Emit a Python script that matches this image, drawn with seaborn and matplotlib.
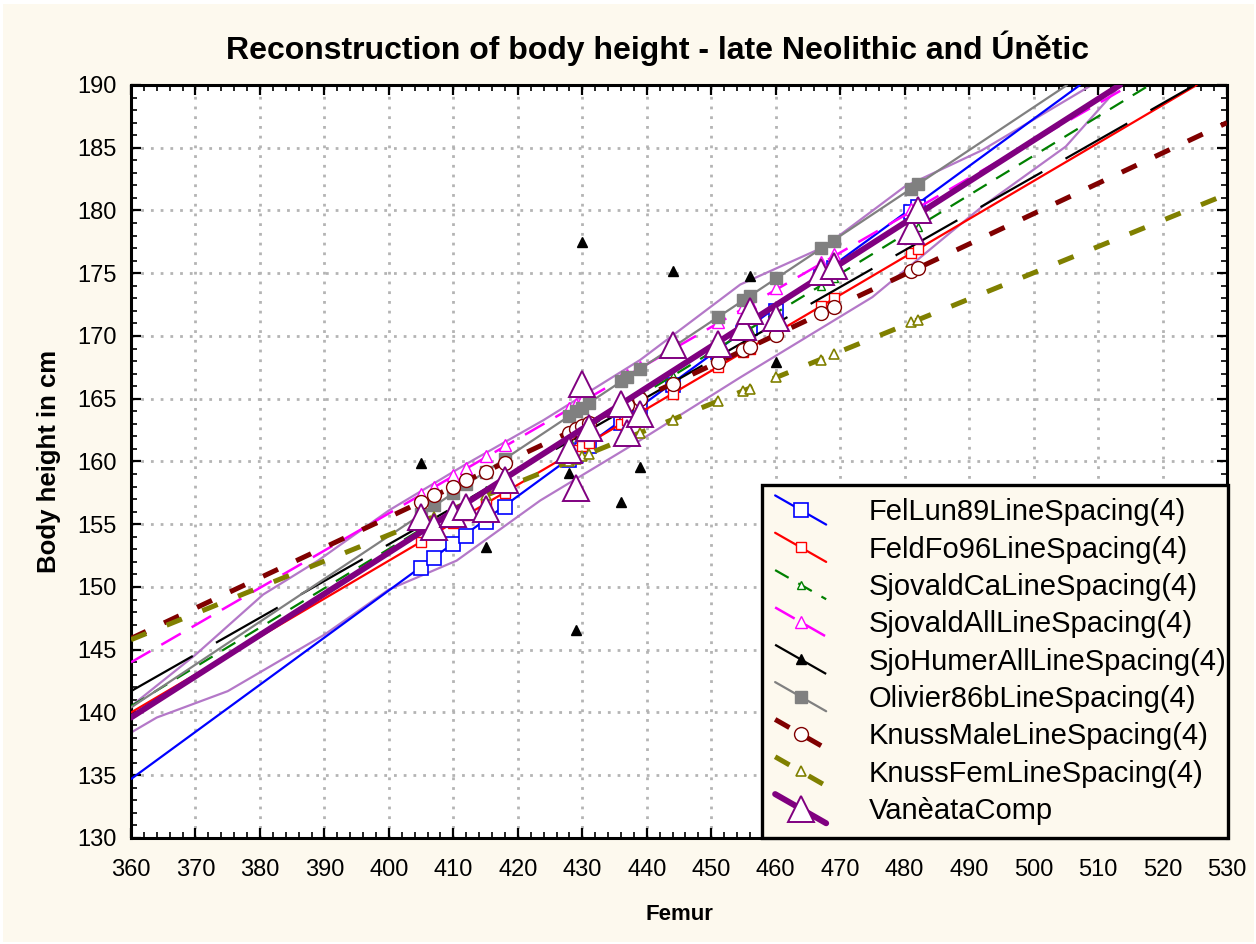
import numpy as np
import pandas as pd
import matplotlib
matplotlib.use("Agg")
import matplotlib.pyplot as plt
import seaborn as sns
from matplotlib.lines import Line2D
from matplotlib.legend_handler import HandlerLine2D
from matplotlib.ticker import MultipleLocator
from matplotlib.patches import Rectangle

# ---------------- data ----------------
femur = [405, 407, 410, 412, 415, 418, 428, 429, 430, 431, 436, 437, 439, 444,
         451, 455, 456, 460, 467, 469, 481, 482]

fellun89_y = [151.5, 152.3, 153.4, 154.1, 155.2, 156.4, 160.1, 160.5, 160.9, 161.2, 163.1,
              163.5, 164.2, 166.1, 168.7, 170.2, 170.6, 172.0, 174.7, 175.4, 179.9, 180.3]
feldfo96_y = [153.6, 154.2, 155.1, 155.7, 156.6, 157.5, 160.6, 160.9, 161.2, 161.5, 163.0,
              163.3, 163.9, 165.4, 167.5, 168.7, 169.0, 170.3, 172.4, 173.0, 176.6, 176.9]
sjovaldca_y = [154.6, 155.2, 156.2, 156.8, 157.7, 158.7, 161.8, 162.1, 162.4, 162.7, 164.3,
               164.6, 165.2, 166.8, 169.0, 170.2, 170.5, 171.8, 174.0, 174.6, 178.4, 178.7]
sjovaldall_y = [157.4, 158.0, 158.9, 159.5, 160.4, 161.3, 164.3, 164.6, 164.9, 165.2, 166.6,
                166.9, 167.5, 169.0, 171.1, 172.3, 172.6, 173.8, 175.9, 176.5, 180.1, 180.4]
olivier86b_y = [155.8, 156.5, 157.5, 158.2, 159.2, 160.2, 163.6, 164.0, 164.3, 164.7, 166.4,
                166.7, 167.4, 169.1, 171.5, 172.9, 173.2, 174.6, 177.0, 177.6, 181.7, 182.1]
knussmale_y = [156.8, 157.3, 158.0, 158.5, 159.2, 159.9, 162.3, 162.6, 162.8, 163.1, 164.3,
               164.5, 165.0, 166.2, 167.9, 168.9, 169.1, 170.1, 171.8, 172.3, 175.2, 175.4]
knussfem_y = [155.2, 155.6, 156.2, 156.7, 157.3, 157.9, 160.0, 160.2, 160.4, 160.6, 161.7,
              161.9, 162.3, 163.3, 164.8, 165.6, 165.8, 166.7, 168.1, 168.6, 171.1, 171.3]
vaneata_y = [155.6, 154.8, 155.8, 156.4, 156.2, 158.5, 160.9, 157.9, 166.2, 162.7, 164.6,
             162.3, 163.8, 169.3, 169.4, 170.7, 172.0, 171.4, 175.1, 175.6, 178.4, 180.0]

# humerus based estimate, only for some individuals
sjohumer_x = [405, 415, 428, 429, 430, 436, 439, 444, 456, 460]
sjohumer_y = [159.9, 153.2, 159.1, 146.6, 177.5, 156.8, 159.6, 175.2, 174.8, 167.9]

# fitted lines (start / end as read at plot borders)
fellun89_lx, fellun89_ly = [360, 507.2], [134.7, 190.0]
feldfo96_lx, feldfo96_ly = [360, 525.3], [140.0, 190.0]
sjovaldca_lx, sjovaldca_ly = [360, 518.0], [140.5, 190.0]
sjovaldall_lx, sjovaldall_ly = [360, 515.0], [144.0, 190.0]
sjohumer_lx, sjohumer_ly = [360, 525.0], [141.7, 190.0]
olivier86b_lx, olivier86b_ly = [360, 505.2], [140.4, 190.0]
knussmale_lx, knussmale_ly = [360, 530.0], [145.9, 187.0]
knussfem_lx, knussfem_ly = [360, 530.0], [145.8, 181.3]
vaneata_lx, vaneata_ly = [360, 513.4], [139.6, 190.0]

# envelope around VanèataComp
band_up_x = [360, 370, 380.5, 389, 400, 412, 424, 439, 454.5, 467.5, 480, 492, 510]
band_up_y = [140.5, 144.6, 149.4, 152.1, 156.1, 159.8, 163.3, 168.1, 174.1, 177.1, 181.9, 184.8, 190.3]
band_lo_x = [360, 364, 375, 390, 400, 410.5, 423.5, 439, 454.5, 475, 487, 492, 505, 513.5]
band_lo_y = [138.4, 139.6, 141.7, 146.2, 149.8, 152.1, 156.9, 161.7, 166.7, 173.1, 178.2, 180.3, 185.1, 190.0]

labels = ["FelLun89LineSpacing(4)", "FeldFo96LineSpacing(4)", "SjovaldCaLineSpacing(4)",
          "SjovaldAllLineSpacing(4)", "SjoHumerAllLineSpacing(4)", "Olivier86bLineSpacing(4)",
          "KnussMaleLineSpacing(4)", "KnussFemLineSpacing(4)", "VanèataComp"]

xticks = list(range(360, 531, 10))
yticks = list(range(130, 191, 5))

# ---------------- styling ----------------
sns.set_theme(style="white")
plt.rcParams["font.family"] = ["Liberation Sans", "DejaVu Sans"]
for k in ["text.color", "axes.labelcolor", "xtick.color", "ytick.color"]:
    plt.rcParams[k] = "black"

cream = "#fdf9ee"
fig = plt.figure(figsize=(12.56, 9.44), dpi=100)
fig.patch.set_facecolor("white")
fig.patches.append(Rectangle((3 / 1256, 2 / 944), 1251 / 1256, 938 / 944,
                             transform=fig.transFigure, facecolor=cream,
                             edgecolor="none", zorder=-10))
ax = fig.add_axes([131 / 1256, 1 - 838 / 944, 1096 / 1256, 753 / 944])
ax.set_facecolor("white")

series = [
    (fellun89_lx, fellun89_ly, femur, fellun89_y, dict(color="#0000ff", lw=1.6, ls="-", marker="s", ms=10, mfc="white", mew=1.2)),
    (feldfo96_lx, feldfo96_ly, femur, feldfo96_y, dict(color="#ff0000", lw=1.6, ls="-", marker="s", ms=6.5, mfc="white", mew=1.0)),
    (sjovaldca_lx, sjovaldca_ly, femur, sjovaldca_y, dict(color="#008000", lw=1.6, ls=(0, (7, 5)), marker="^", ms=6, mfc="white", mew=1.0)),
    (sjovaldall_lx, sjovaldall_ly, femur, sjovaldall_y, dict(color="#ff00ff", lw=1.8, ls=(0, (9, 5)), marker="^", ms=8.5, mfc="white", mew=1.0)),
    (sjohumer_lx, sjohumer_ly, sjohumer_x, sjohumer_y, dict(color="#000000", lw=1.6, ls=(0, (32, 12)), marker="^", ms=7, mfc="#000000", mew=1.0)),
    (olivier86b_lx, olivier86b_ly, femur, olivier86b_y, dict(color="#808080", lw=1.6, ls="-", marker="s", ms=9, mfc="#808080", mew=1.0)),
    (knussmale_lx, knussmale_ly, femur, knussmale_y, dict(color="#800000", lw=3.6, ls=(0, (3.3, 4)), marker="o", ms=10, mfc="white", mew=1.0)),
    (knussfem_lx, knussfem_ly, femur, knussfem_y, dict(color="#808000", lw=3.6, ls=(0, (3.3, 4.4)), marker="^", ms=7.5, mfc="white", mew=1.2)),
    (vaneata_lx, vaneata_ly, femur, vaneata_y, dict(color="#800080", lw=4.3, ls="-", marker="^", ms=19, mfc="white", mew=1.4)),
]

# envelope lines
sns.lineplot(x=band_up_x, y=band_up_y, ax=ax, color="#b478c8", lw=1.6,
             estimator=None, errorbar=None, sort=False, legend=False, zorder=2)
sns.lineplot(x=band_lo_x, y=band_lo_y, ax=ax, color="#b478c8", lw=1.6,
             estimator=None, errorbar=None, sort=False, legend=False, zorder=2)

handles = []
for i, (lx, ly, px, py, st) in enumerate(series):
    z = 3 + i
    if i == len(series) - 1:
        z = 20
    sns.lineplot(x=lx, y=ly, ax=ax, color=st["color"], lw=st["lw"], linestyle=st["ls"],
                 estimator=None, errorbar=None, sort=False, legend=False, zorder=z)
    sns.lineplot(x=px, y=py, ax=ax, color=st["color"], linestyle="none",
                 marker=st["marker"], markersize=st["ms"], markerfacecolor=st["mfc"],
                 markeredgecolor=st["color"], markeredgewidth=st["mew"],
                 estimator=None, errorbar=None, sort=False, legend=False, zorder=z + 0.5)
    handles.append(Line2D([], [], color=st["color"], lw=st["lw"], linestyle=st["ls"],
                          marker=st["marker"], markersize=st["ms"], markerfacecolor=st["mfc"],
                          markeredgecolor=st["color"], markeredgewidth=st["mew"]))

ax.set_xlim(360, 530)
ax.set_ylim(130, 190)
ax.set_xticks(xticks)
ax.set_yticks(yticks)
ax.xaxis.set_minor_locator(MultipleLocator(2))
ax.yaxis.set_minor_locator(MultipleLocator(1))
ax.tick_params(which="both", direction="in", top=True, right=True, bottom=True, left=True,
               color="black")
ax.tick_params(which="major", length=7, width=1.6, labelsize=17)
ax.tick_params(axis="x", which="major", pad=15)
ax.tick_params(axis="y", which="major", pad=10)
ax.tick_params(which="minor", length=4, width=1.2)
ax.grid(True, which="major", color="#b4b4b4", linestyle=(0, (1, 2.5)), lw=2.0)
for sp in ax.spines.values():
    sp.set_visible(True)
    sp.set_color("black")
    sp.set_linewidth(2.2)

ax.set_title("Reconstruction of body height - late Neolithic and Únětic",
             fontsize=23, fontweight="bold", pad=19, x=(657 - 131) / 1096)
ax.set_xlabel("Femur", fontsize=16, fontweight="bold", labelpad=17)
ax.set_ylabel("Body height in cm", fontsize=18.5, fontweight="bold", labelpad=12)


class DiagHandler(HandlerLine2D):
    def create_artists(self, legend, orig_handle, xdescent, ydescent, width, height,
                       fontsize, trans):
        xd = np.array([-xdescent, width - xdescent])
        yc = height / 2 - ydescent
        yd = np.array([yc + 0.5 * fontsize, yc - 0.5 * fontsize])
        legline = Line2D(xd, yd)
        self.update_prop(legline, orig_handle, legend)
        legline.set_marker("None")
        legline.set_transform(trans)
        legmarker = Line2D([xd.mean()], [yd.mean()])
        self.update_prop(legmarker, orig_handle, legend)
        legmarker.set_linestyle("None")
        legmarker.set_transform(trans)
        return [legline, legmarker]


leg = ax.legend(handles, labels, loc="lower left",
                bbox_to_anchor=(631 / 1096, 0.0, 466 / 1096, 0.47), mode="expand",
                borderaxespad=0, fontsize=21, handlelength=1.75, handletextpad=1.45,
                labelspacing=0.32, borderpad=0.45, fancybox=False, framealpha=1,
                facecolor=cream, edgecolor="black",
                handler_map={Line2D: DiagHandler()})
leg.get_frame().set_linewidth(2.4)
leg.set_zorder(50)

fig.savefig("out.png", dpi=100, facecolor=fig.get_facecolor())
